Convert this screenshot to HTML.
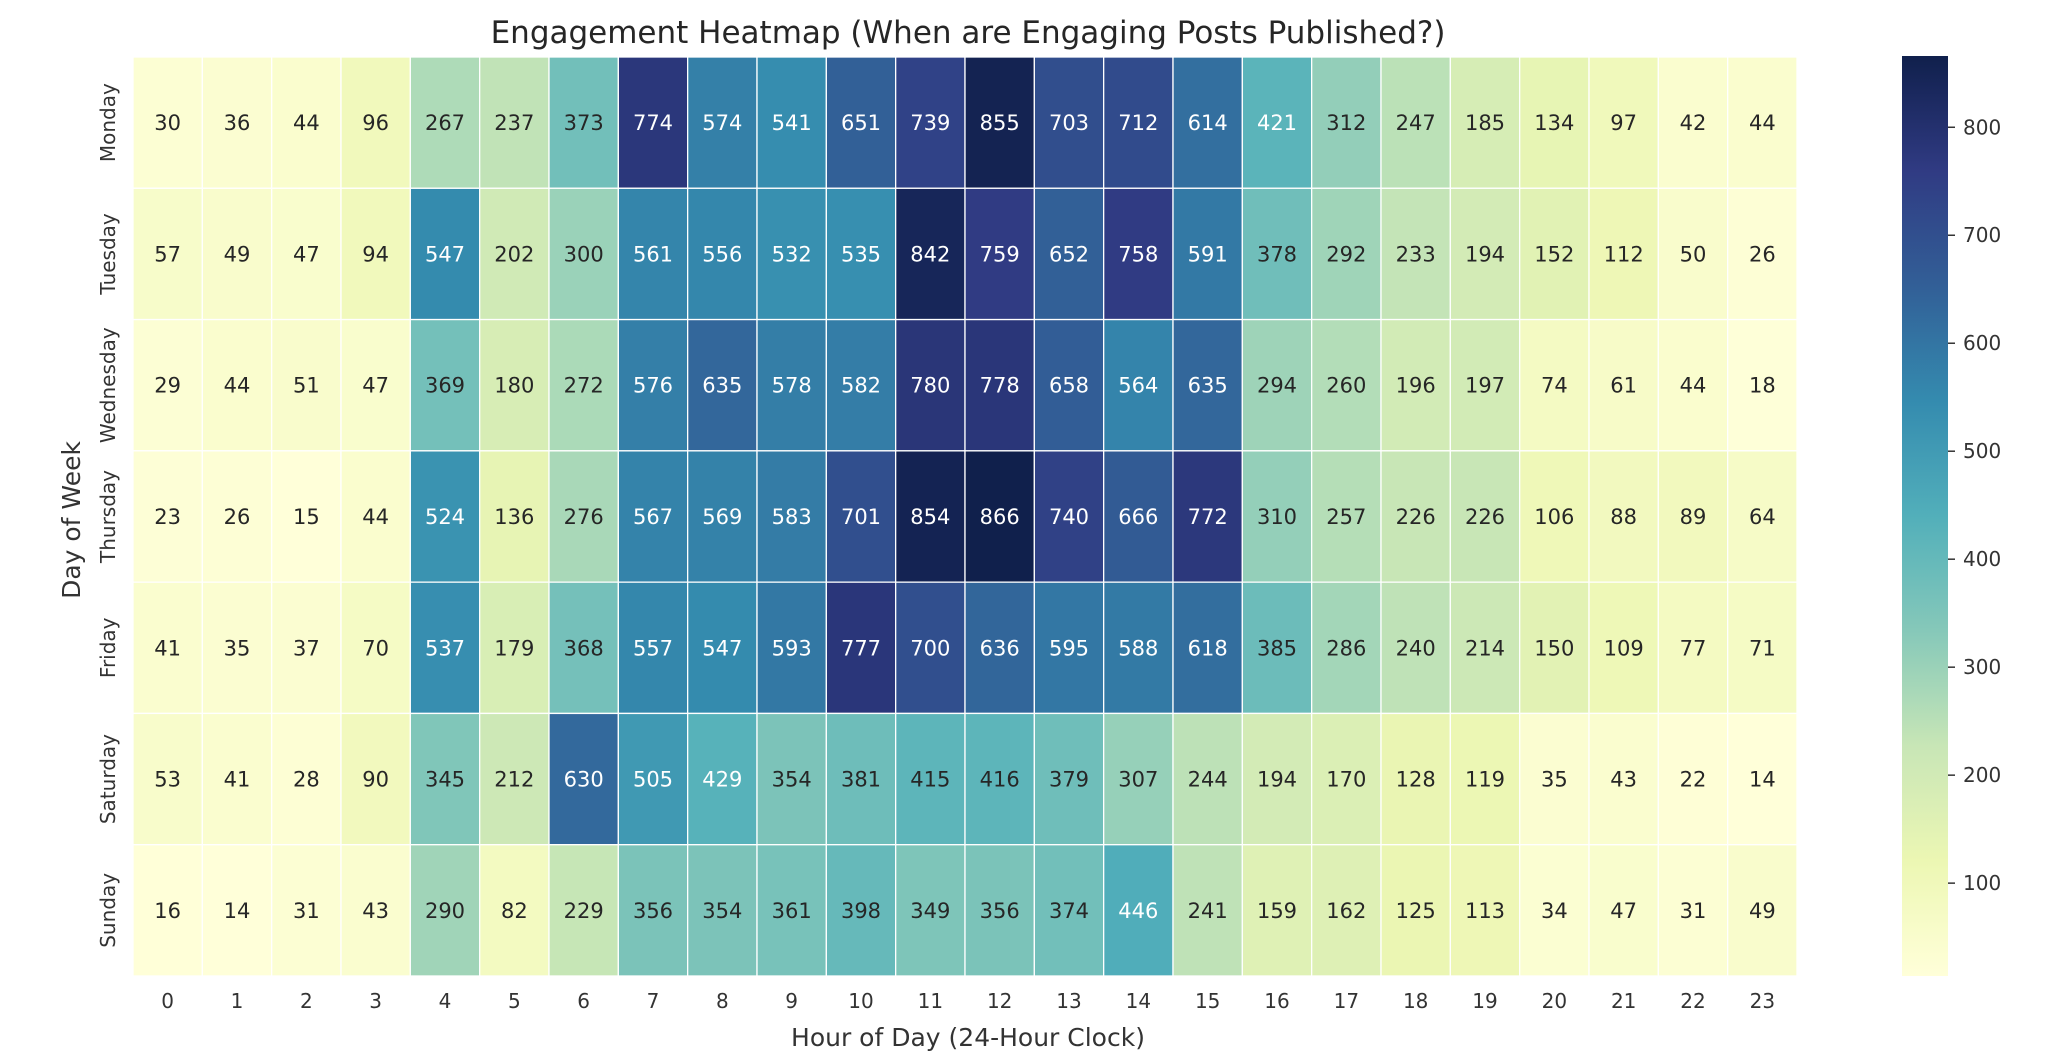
<!DOCTYPE html>
<html><head><meta charset="utf-8"><style>
html,body{margin:0;padding:0;background:#fff;}
svg{display:block;font-family:"DejaVu Sans","Liberation Sans",sans-serif;}
</style></head><body>
<svg id="s" width="2048" height="1062" xmlns="http://www.w3.org/2000/svg">
<defs><linearGradient id="cb" x1="0" y1="1" x2="0" y2="0">
</linearGradient></defs>
<g id="cells"></g>
<text x="968" y="43" font-size="31" text-anchor="middle" fill="#262626">Engagement Heatmap (When are Engaging Posts Published?)</text>
<text x="968" y="1046" font-size="25" text-anchor="middle" fill="#333">Hour of Day (24-Hour Clock)</text>
<text transform="translate(80,520) rotate(-90)" font-size="25" text-anchor="middle" fill="#333">Day of Week</text>
<rect x="1902" y="56" width="46" height="920" fill="url(#cb)"/>
<g id="cbt"></g>
</svg>
<script>
const data=[
[30,36,44,96,267,237,373,774,574,541,651,739,855,703,712,614,421,312,247,185,134,97,42,44],
[57,49,47,94,547,202,300,561,556,532,535,842,759,652,758,591,378,292,233,194,152,112,50,26],
[29,44,51,47,369,180,272,576,635,578,582,780,778,658,564,635,294,260,196,197,74,61,44,18],
[23,26,15,44,524,136,276,567,569,583,701,854,866,740,666,772,310,257,226,226,106,88,89,64],
[41,35,37,70,537,179,368,557,547,593,777,700,636,595,588,618,385,286,240,214,150,109,77,71],
[53,41,28,90,345,212,630,505,429,354,381,415,416,379,307,244,194,170,128,119,35,43,22,14],
[16,14,31,43,290,82,229,356,354,361,398,349,356,374,446,241,159,162,125,113,34,47,31,49]];
const days=["Monday","Tuesday","Wednesday","Thursday","Friday","Saturday","Sunday"];
const stops=["#ffffd9","#edf8b1","#c7e9b4","#7fcdbb","#41b6c4","#1d91c0","#225ea8","#253494","#081d58"].map(h=>[1,3,5].map(i=>parseInt(h.substr(i,2),16)));
function cm(t){t=Math.max(0,Math.min(1,t));const s=t*8;const i=Math.min(7,Math.floor(s)),f=s-i;
let c=stops[i].map((c,k)=>c+(stops[i+1][k]-c)*f);
const m=(c[0]+c[1]+c[2])/3;const d=0.25*Math.min(1,t*1.6);return c.map(v=>Math.round(v*(1-d)+m*d));}
const vmin=14,vmax=866;
const NS="http://www.w3.org/2000/svg";
function el(tag,attrs,txt,parent){const e=document.createElementNS(NS,tag);for(const k in attrs)e.setAttribute(k,attrs[k]);if(txt!==undefined)e.textContent=txt;parent.appendChild(e);return e;}
const g=document.getElementById("cells"),svg=document.getElementById("s");
const x0=133,y0=57,cw=(1797-133)/24,ch=(976-57)/7;
data.forEach((row,r)=>row.forEach((v,c)=>{const col=cm((v-vmin)/(vmax-vmin));
el("rect",{x:x0+c*cw,y:y0+r*ch,width:cw,height:ch,fill:`rgb(${col})`,stroke:"#fff","stroke-width":1.3},undefined,g);
el("text",{x:x0+(c+.5)*cw,y:y0+(r+.5)*ch+7.5,"font-size":21,"text-anchor":"middle",fill:v>418?"#fff":"#262626"},v,g);}));
for(let c=0;c<24;c++)el("text",{x:x0+(c+.5)*cw,y:1008,"font-size":20,"text-anchor":"middle",fill:"#333"},c,svg);
days.forEach((d,r)=>el("text",{transform:`translate(115,${y0+(r+.5)*ch}) rotate(-90)`,"font-size":20,"text-anchor":"middle",fill:"#333"},d,svg));
const gr=document.getElementById("cb");
for(let i=0;i<=16;i++){const col=cm(i/16);el("stop",{offset:i/16,"stop-color":`rgb(${col})`},undefined,gr);}
const cbt=document.getElementById("cbt");
for(let v=100;v<=800;v+=100){const y=976-(v-vmin)/(vmax-vmin)*920;
el("line",{x1:1948,x2:1955,y1:y,y2:y,stroke:"#333","stroke-width":1.5},undefined,cbt);
el("text",{x:1963,y:y+7,"font-size":20,fill:"#333"},v,cbt);}
</script>
</body></html>
